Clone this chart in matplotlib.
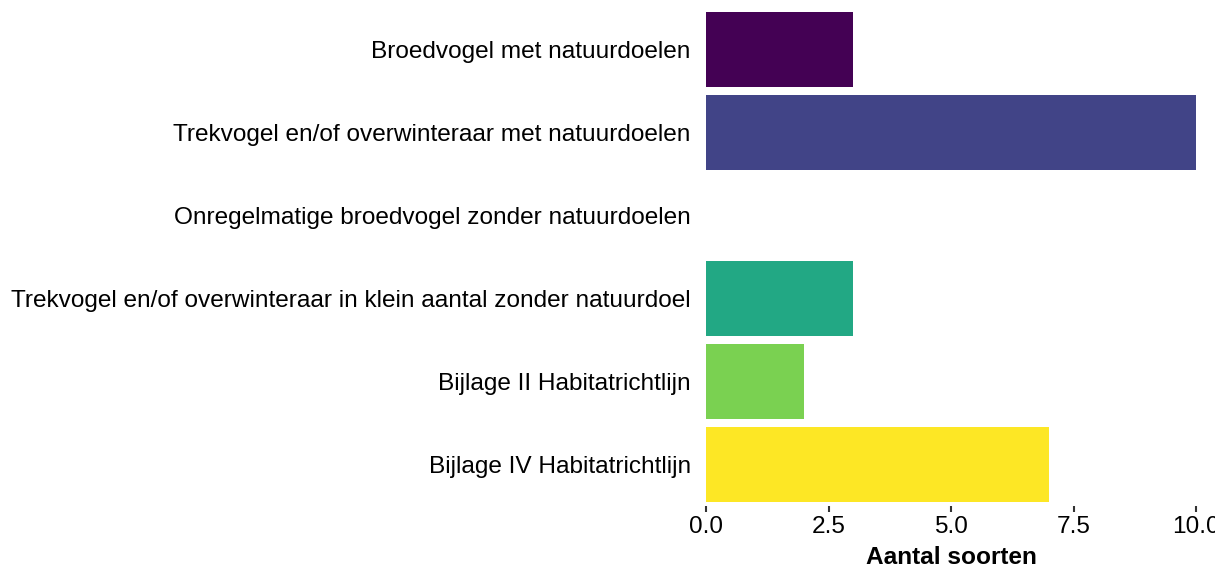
import numpy as np
import matplotlib
matplotlib.use("Agg")
import matplotlib.pyplot as plt

plt.rcParams['font.family'] = ['Liberation Sans', 'DejaVu Sans']

# categories, top to bottom
categories = ["Broedvogel met natuurdoelen",
              "Trekvogel en/of overwinteraar met natuurdoelen",
              "Onregelmatige broedvogel zonder natuurdoelen",
              "Trekvogel en/of overwinteraar in klein aantal zonder natuurdoel",
              "Bijlage II Habitatrichtlijn",
              "Bijlage IV Habitatrichtlijn"]
n_species = [3, 10, 0, 3, 2, 7]
colors = ["#440154", "#414487", "#2A788E", "#22A884", "#7AD151", "#FDE725"]
xticks = [0.0, 2.5, 5.0, 7.5, 10.0]

fig = plt.figure(figsize=(12.15, 5.67), dpi=100)
ax = fig.add_axes([706/1215, 1 - 506/567, 490/1215, 498/567])

ypos = np.arange(len(categories))
ax.barh(ypos, n_species, height=0.9, color=colors)

ax.set_xlim(0, 10)
ax.set_ylim(len(categories) - 0.5, -0.5)
ax.set_yticks(ypos)
ax.set_yticklabels(categories, fontsize=17.6)
ax.set_xticks(xticks)
ax.set_xticklabels(["%.1f" % t for t in xticks], fontsize=17.6)
ax.tick_params(axis='y', length=0, pad=11)
ax.tick_params(axis='x', length=4.5, width=1.5, color='#333333', pad=2.5)
for s in ax.spines.values():
    s.set_visible(False)
ax.set_xlabel("Aantal soorten", fontsize=17.6, fontweight='bold', labelpad=6)

fig.savefig("out.png", dpi=100)
